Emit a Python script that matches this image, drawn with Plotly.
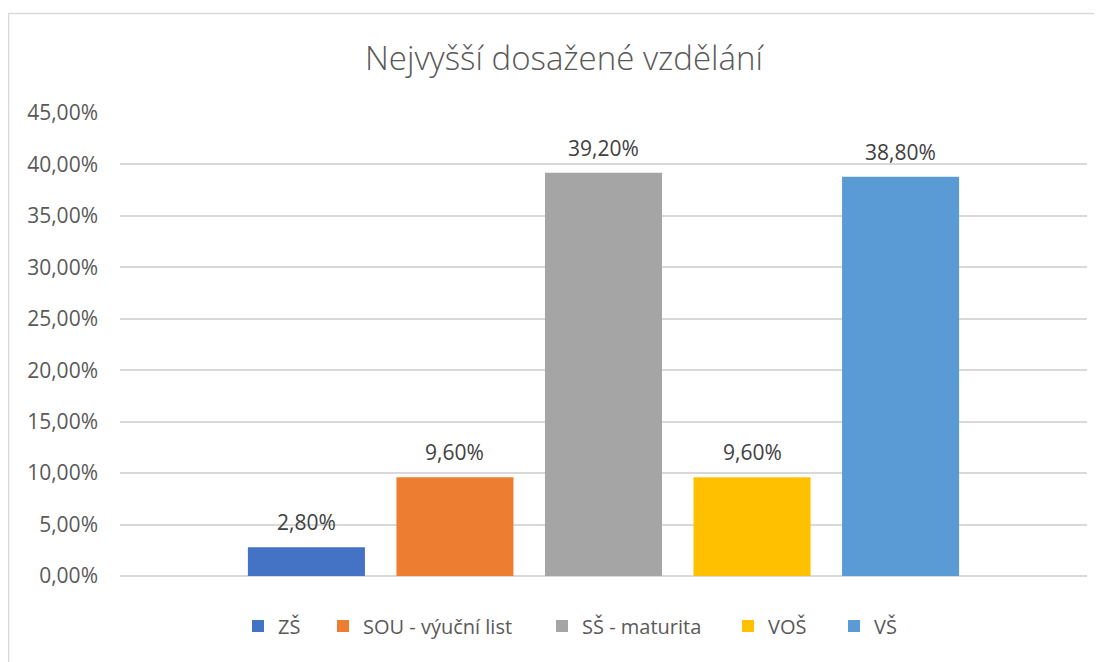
import plotly.graph_objects as go

categories = ["ZŠ", "SOU - výuční list", "SŠ - maturita", "VOŠ", "VŠ"]
shares = [0.028, 0.096, 0.392, 0.096, 0.388]
colors = ["#4472C4", "#ED7D31", "#A5A5A5", "#FFC000", "#5B9BD5"]

FONT = "Open Sans"
TEXT = "#595959"

# the page body has an 8px margin, so the figure is sized to fit inside it
OFF = 8
W, H = 1102 - OFF, 662 - OFF
PLOT_L, PLOT_W = 120, 967

# left edge (page px) of each legend swatch, as in the Excel legend
legend_left = [250, 335, 554, 740, 846]

fig = go.Figure()

legends = {}
for i, (cat, val, col) in enumerate(zip(categories, shares, colors)):
    key = "legend" if i == 0 else f"legend{i + 1}"
    fig.add_trace(
        go.Bar(
            x=[cat],
            y=[val],
            name=cat,
            legend=key,
            marker=dict(color=col, line=dict(width=0)),
            hoverinfo="skip",
        )
    )
    legends[key] = dict(
        orientation="h",
        x=(legend_left[i] + 2 - 14 - PLOT_L) / PLOT_W,
        xanchor="left",
        y=-0.108,
        yanchor="middle",
        font=dict(family=FONT, size=20, color=TEXT),
        itemwidth=30,
        bgcolor="rgba(0,0,0,0)",
    )
    # data label above bar, Excel style
    fig.add_annotation(
        x=cat,
        y=val,
        text=f"{val * 100:.2f}".replace(".", ",") + "%",
        showarrow=False,
        yanchor="bottom",
        yshift=9,
        font=dict(family=FONT, size=21, color="#404040"),
    )

fig.update_layout(
    width=W,
    height=H,
    barmode="overlay",
    bargap=0.212,
    separators=", ",
    showlegend=True,
    title=dict(
        text="Nejvyšší dosažené vzdělání",
        x=(564 - OFF) / W,
        xanchor="center",
        y=1 - (58 - OFF) / H,
        yref="container",
        yanchor="middle",
        font=dict(family=FONT, size=33, color=TEXT, weight=300),
    ),
    xaxis=dict(
        range=[-1.255, 5.255],
        showticklabels=False,
        showgrid=False,
        zeroline=False,
        showline=False,
        ticks="",
    ),
    yaxis=dict(
        range=[0, 0.45],
        dtick=0.05,
        tickformat=".2%",
        gridcolor="#D9D9D9",
        gridwidth=1.5,
        zeroline=True,
        zerolinecolor="#D9D9D9",
        zerolinewidth=1.5,
        showline=False,
        ticks="",
        ticklabelstandoff=21,
        tickfont=dict(family=FONT, size=21, color=TEXT),
    ),
    plot_bgcolor="white",
    paper_bgcolor="white",
    margin=dict(l=PLOT_L - OFF, r=15, t=113 - OFF, b=86),
    shapes=[
        dict(
            type="rect",
            xref="paper",
            yref="paper",
            x0=(8.5 - PLOT_L) / PLOT_W,
            x1=1.2,
            y0=-0.5,
            y1=(576 - 13.5) / 463,
            line=dict(color="#D9D9D9", width=1.5),
            layer="below",
        )
    ],
    **legends,
)

fig.write_html("out.html")
